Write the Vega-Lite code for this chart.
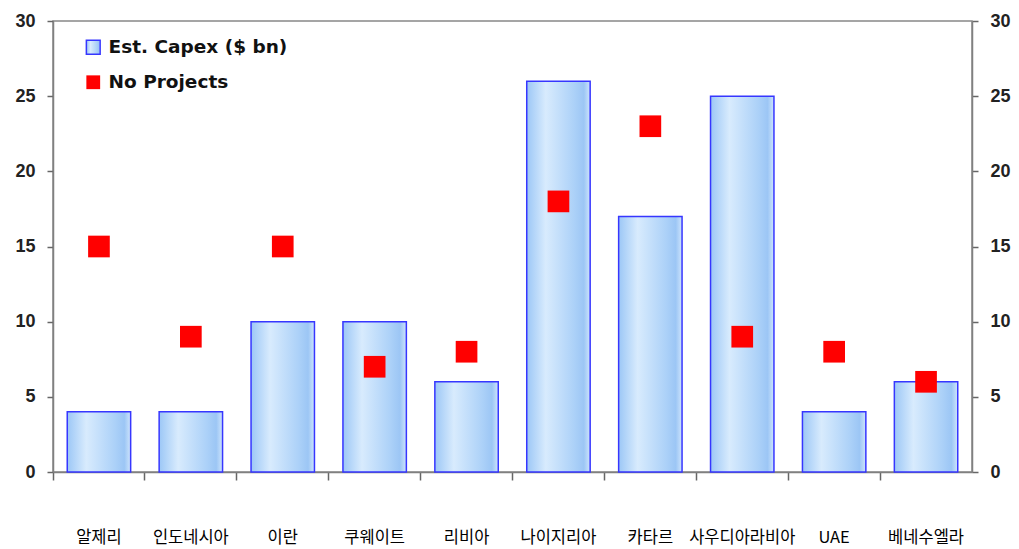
{
  "$schema": "https://vega.github.io/schema/vega-lite/v6.json",
  "autosize": {"type": "none"},
  "padding": {"left": 53, "top": 21, "right": 47, "bottom": 77},
  "width": 919,
  "height": 451,
  "background": "white",
  "config": {
    "view": {"stroke": "#888888", "strokeWidth": 1.5},
    "axis": {
      "domainColor": "#808080",
      "domainWidth": 1.5,
      "tickColor": "#666666",
      "tickWidth": 1.5,
      "grid": false
    }
  },
  "data": {
    "values": [
      {"country": "알제리", "capex": 4, "projects": 15},
      {"country": "인도네시아", "capex": 4, "projects": 9},
      {"country": "이란", "capex": 10, "projects": 15},
      {"country": "쿠웨이트", "capex": 10, "projects": 7},
      {"country": "리비아", "capex": 6, "projects": 8},
      {"country": "나이지리아", "capex": 26, "projects": 18},
      {"country": "카타르", "capex": 17, "projects": 23},
      {"country": "사우디아라비아", "capex": 25, "projects": 9},
      {"country": "UAE", "capex": 4, "projects": 8},
      {"country": "베네수엘라", "capex": 6, "projects": 6}
    ]
  },
  "encoding": {
    "x": {
      "field": "country",
      "type": "nominal",
      "sort": null,
      "scale": {"paddingInner": 0.31, "paddingOuter": 0.155},
      "axis": {
        "title": null,
        "labelAngle": 0,
        "labelFont": "Noto Sans CJK KR",
        "labelFontSize": 16.5,
        "labelColor": "#000000",
        "labelPadding": 49,
        "tickSize": 8,
        "bandPosition": -0.2246,
        "domain": true
      }
    }
  },
  "layer": [
    {
      "mark": {
        "type": "bar",
        "fill": {
          "gradient": "linear",
          "x1": 0, "x2": 1, "y1": 0, "y2": 0,
          "stops": [
            {"offset": 0, "color": "#9cc7f6"},
            {"offset": 0.3, "color": "#d8ebfd"},
            {"offset": 0.75, "color": "#acd1f8"},
            {"offset": 0.9, "color": "#9cc6f5"},
            {"offset": 1, "color": "#cfe5fc"}
          ]
        },
        "strokeWidth": 1.5
      },
      "encoding": {
        "y": {
          "field": "capex",
          "type": "quantitative",
          "scale": {"domain": [0, 30]},
          "axis": {
            "orient": "left",
            "title": null,
            "values": [0, 5, 10, 15, 20, 25, 30],
            "labelFont": "Liberation Sans",
            "labelFontWeight": "bold",
            "labelFontSize": 18,
            "labelColor": "#222222",
            "labelPadding": 12,
            "tickSize": 6
          }
        },
        "stroke": {
          "datum": "Est. Capex ($ bn)",
          "scale": {"domain": ["Est. Capex ($ bn)"], "range": ["#3636ff"]},
          "legend": {
            "title": null,
            "orient": "none",
            "legendX": 31,
            "legendY": 17,
            "symbolType": "square",
            "symbolSize": 190,
            "symbolStrokeWidth": 1.5,
            "symbolFillColor": "#c6e0fd",
            "labelFont": "DejaVu Sans",
            "labelFontWeight": "bold",
            "labelFontSize": 18.5,
            "labelColor": "#111111",
            "labelOffset": 6,
            "labelLimit": 0
          }
        }
      }
    },
    {
      "mark": {"type": "point", "shape": "square", "filled": true, "size": 470, "opacity": 1},
      "encoding": {
        "y": {
          "field": "projects",
          "type": "quantitative",
          "scale": {"domain": [0, 30]},
          "axis": {
            "orient": "right",
            "title": null,
            "values": [0, 5, 10, 15, 20, 25, 30],
            "labelFont": "Liberation Sans",
            "labelFontWeight": "bold",
            "labelFontSize": 18,
            "labelColor": "#222222",
            "labelPadding": 12,
            "tickSize": 6
          }
        },
        "fill": {
          "datum": "No Projects",
          "scale": {"domain": ["No Projects"], "range": ["#ff0000"]},
          "legend": {
            "title": null,
            "orient": "none",
            "legendX": 31,
            "legendY": 52,
            "symbolType": "square",
            "symbolSize": 190,
            "labelFont": "DejaVu Sans",
            "labelFontWeight": "bold",
            "labelFontSize": 18.5,
            "labelColor": "#111111",
            "labelOffset": 6,
            "labelLimit": 0
          }
        }
      }
    }
  ],
  "resolve": {"axis": {"y": "independent"}}
}
